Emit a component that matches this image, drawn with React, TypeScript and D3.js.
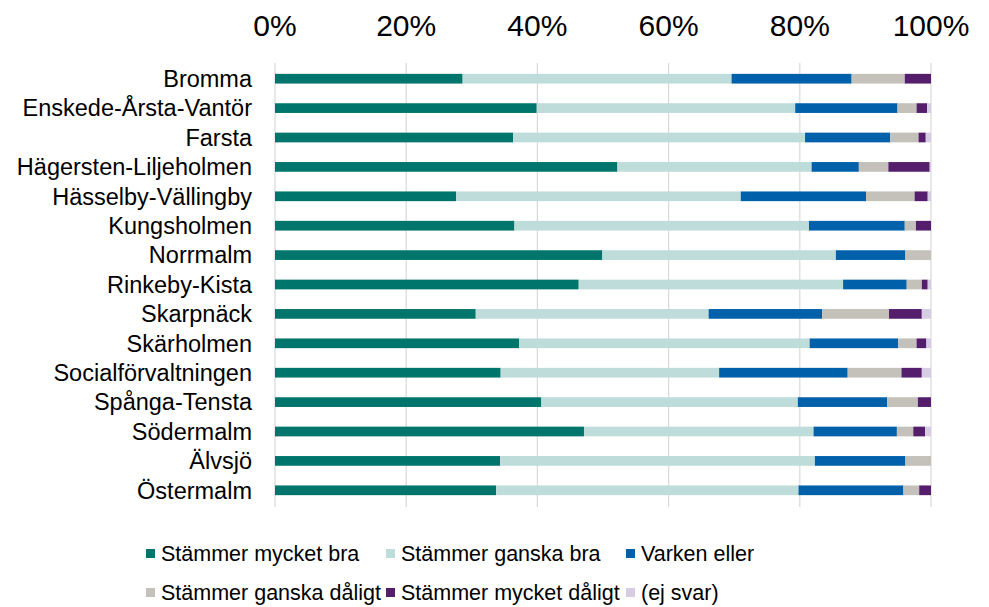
import React from "react";
import * as d3 from "d3";

const categories = [
  "Bromma",
  "Enskede-Årsta-Vantör",
  "Farsta",
  "Hägersten-Liljeholmen",
  "Hässelby-Vällingby",
  "Kungsholmen",
  "Norrmalm",
  "Rinkeby-Kista",
  "Skarpnäck",
  "Skärholmen",
  "Socialförvaltningen",
  "Spånga-Tensta",
  "Södermalm",
  "Älvsjö",
  "Östermalm"
];

const seriesNames = [
  "Stämmer mycket bra",
  "Stämmer ganska bra",
  "Varken eller",
  "Stämmer ganska dåligt",
  "Stämmer mycket dåligt",
  "(ej svar)"
];

// percentages
const mycketBra = [28.6, 39.9, 36.3, 52.2, 27.6, 36.5, 49.9, 46.3, 30.6, 37.2, 34.4, 40.6, 47.1, 34.3, 33.7];
const ganskaBra = [41.0, 39.4, 44.5, 29.6, 43.4, 44.9, 35.6, 40.3, 35.5, 44.3, 33.3, 39.1, 35.0, 48.0, 46.1];
const varkenEller = [18.3, 15.6, 13.0, 7.2, 19.1, 14.6, 10.6, 9.7, 17.3, 13.5, 19.6, 13.6, 12.7, 13.8, 16.0];
const ganskaDaligt = [8.1, 2.9, 4.3, 4.5, 7.4, 1.7, 3.9, 2.3, 10.2, 2.8, 8.2, 4.7, 2.5, 3.9, 2.4];
const mycketDaligt = [4.0, 1.6, 1.1, 6.3, 2.0, 2.3, 0, 0.9, 5.0, 1.5, 3.1, 2.0, 1.8, 0, 1.8];
const ejSvar = [0, 0.6, 0.8, 0.2, 0.5, 0, 0, 0.5, 1.4, 0.7, 1.4, 0, 0.9, 0, 0];

const ticks = [0, 20, 40, 60, 80, 100];

const colors = ["#00756b", "#bedcda", "#0061aa", "#c4c0ba", "#541e6c", "#d6cde2"];

const width = 989;
const height = 607;
const margin = { top: 64, right: 58, bottom: 102, left: 275 };
const font = "'Liberation Sans', Arial, sans-serif";

export default function App() {
  const allSeries = [mycketBra, ganskaBra, varkenEller, ganskaDaligt, mycketDaligt, ejSvar];
  const rows = categories.map((c, i) => {
    const row: any = { name: c };
    seriesNames.forEach((s, j) => (row[s] = allSeries[j][i]));
    return row;
  });
  const stacked = d3.stack().keys(seriesNames)(rows);

  const xScale = d3
    .scaleLinear()
    .domain([0, 100])
    .range([margin.left, width - margin.right]);
  const yScale = d3
    .scaleBand()
    .domain(categories)
    .range([margin.top, height - margin.bottom])
    .paddingInner(0.67)
    .paddingOuter(0.335);

  const colorScale = d3.scaleOrdinal<string>().domain(seriesNames).range(colors);

  // legend layout, two rows of three
  const legendX = [146, 386, 626];
  const legendY = [561, 600];

  return (
    <svg
      width={width}
      height={height}
      style={{ position: "absolute", left: 0, top: 0, background: "#fff" }}
      fontFamily={font}
    >
      <g className="grid">
        {ticks.map(t => (
          <line
            key={t}
            x1={xScale(t)}
            x2={xScale(t)}
            y1={margin.top - 1}
            y2={height - margin.bottom + 2}
            stroke="#d9d9d9"
            strokeWidth={1.2}
          />
        ))}
      </g>
      <g className="xAxis">
        {ticks.map(t => (
          <text key={t} x={xScale(t)} y={36} textAnchor="middle" fontSize={30} fill="#000">
            {t}%
          </text>
        ))}
      </g>
      <g className="yAxis">
        {categories.map(c => (
          <text
            key={c}
            x={252}
            y={yScale(c)! + yScale.bandwidth() / 2}
            dy="0.35em"
            textAnchor="end"
            fontSize={23.5}
            fill="#000"
          >
            {c}
          </text>
        ))}
      </g>
      <g className="bars">
        {stacked.map(layer => (
          <g key={layer.key} fill={colorScale(layer.key)}>
            {layer.map((d, i) =>
              d[1] - d[0] > 0 ? (
                <rect
                  key={i}
                  x={xScale(d[0])}
                  y={yScale(categories[i])}
                  width={xScale(d[1]) - xScale(d[0])}
                  height={yScale.bandwidth()}
                />
              ) : null
            )}
          </g>
        ))}
      </g>
      <g className="legend">
        {seriesNames.map((s, i) => {
          const lx = legendX[i % 3];
          const ly = legendY[Math.floor(i / 3)];
          return (
            <g key={s}>
              <rect x={lx} y={ly - 12} width={9} height={9} fill={colorScale(s)} />
              <text x={lx + 15} y={ly} fontSize={21.5} fill="#000">
                {s}
              </text>
            </g>
          );
        })}
      </g>
    </svg>
  );
}
